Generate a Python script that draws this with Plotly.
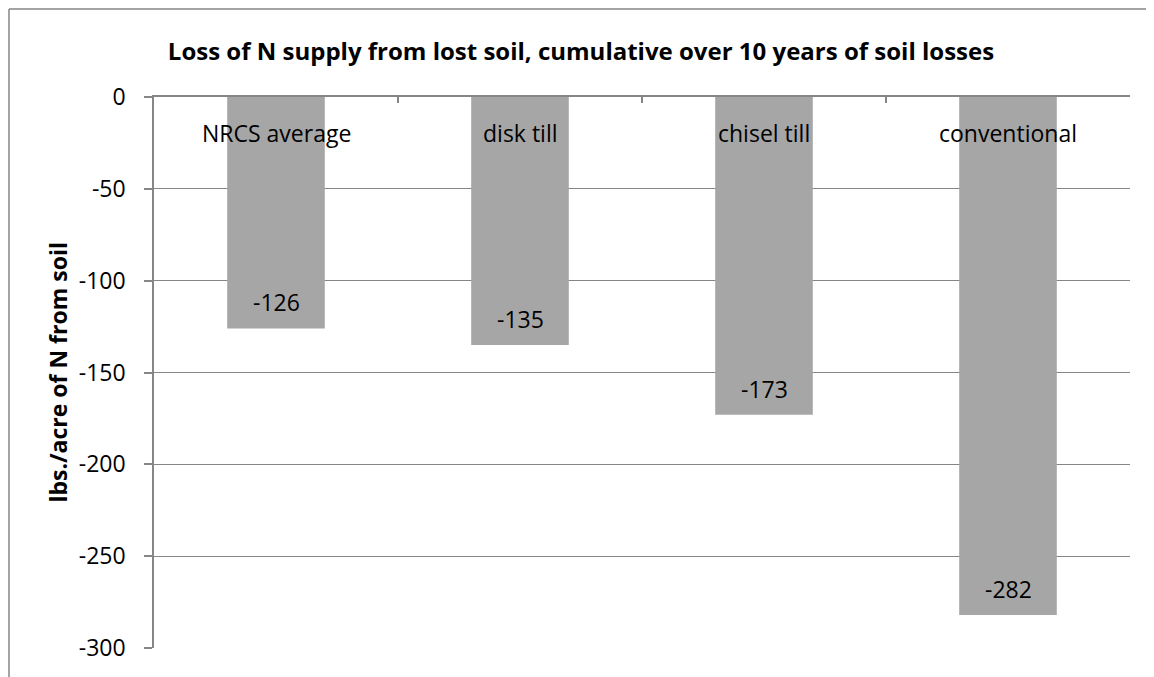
import plotly.graph_objects as go

categories = ["NRCS average", "disk till", "chisel till", "conventional"]
n_loss = [-126, -135, -173, -282]
y_ticks = [0, -50, -100, -150, -200, -250, -300]

title_text = "Loss of N supply from lost soil, cumulative over 10 years of soil losses"
y_title = "lbs./acre of N from soil"

GRAY = "#868686"
BAR = "#A6A6A6"
FONT = "Open Sans"

# page body adds 8px offset; figure sized to fit the 1154x677 window
W, H = 1146, 669
L, R, T, B = 146, 24, 89, 29
PW = W - L - R
PH = H - T - B

fig = go.Figure()
fig.add_trace(go.Bar(
    x=categories, y=n_loss, width=0.4,
    marker=dict(color=BAR, line=dict(width=0)),
    hoverinfo="x+y",
))

annotations = []
for c, v in zip(categories, n_loss):
    annotations.append(dict(
        x=c, y=v, xref="x", yref="y", text=str(v), showarrow=False,
        yanchor="middle", yshift=26, font=dict(family=FONT, size=23, color="#000000"),
    ))
for c in categories:
    annotations.append(dict(
        x=c, y=1, xref="x", yref="paper", text=c, showarrow=False,
        yanchor="middle", yshift=-36, font=dict(family=FONT, size=23, color="#000000"),
    ))
annotations.append(dict(
    x=(57 - 154) / PW, y=0.5, xref="paper", yref="paper", text="<b>" + y_title + "</b>",
    showarrow=False, textangle=-90, xanchor="center", yanchor="middle",
    font=dict(family=FONT, size=23, color="#000000"),
))

bx0 = (1 - L) / PW
by1 = (PH + T - 1) / PH
fig.update_layout(
    width=W, height=H,
    margin=dict(l=L, r=R, t=T, b=B, pad=0),
    paper_bgcolor="white", plot_bgcolor="white",
    showlegend=False,
    title=dict(text="<b>" + title_text + "</b>", x=(581 - 8) / W, xanchor="center",
               y=1 - (52 - 8) / H, yanchor="middle",
               font=dict(family=FONT, size=24, color="#000000")),
    annotations=annotations,
    shapes=[
        dict(type="line", xref="paper", yref="paper", x0=bx0, x1=bx0, y0=-0.2, y1=by1,
             line=dict(color=GRAY, width=1.5), layer="below"),
        dict(type="line", xref="paper", yref="paper", x0=bx0, x1=1.05, y0=by1, y1=by1,
             line=dict(color=GRAY, width=1.5), layer="below"),
    ],
    font=dict(family=FONT, color="#000000"),
)

fig.update_yaxes(
    range=[-300, 0], tickvals=y_ticks, ticktext=[str(v) for v in y_ticks],
    showgrid=True, gridcolor=GRAY, gridwidth=1,
    showline=True, linecolor=GRAY, linewidth=1.5, ticks="outside", ticklen=8,
    tickcolor=GRAY, tickwidth=1.5, tickfont=dict(family=FONT, size=23, color="#000000"),
    ticklabelstandoff=14, zeroline=False, fixedrange=True,
)
fig.update_xaxes(
    side="top", showline=True, linecolor=GRAY, linewidth=1.5,
    ticks="inside", ticklen=6, tickcolor=GRAY, tickwidth=1.5, tickson="boundaries",
    showticklabels=False, showgrid=False, zeroline=False, fixedrange=True,
)

fig.write_html("out.html")
